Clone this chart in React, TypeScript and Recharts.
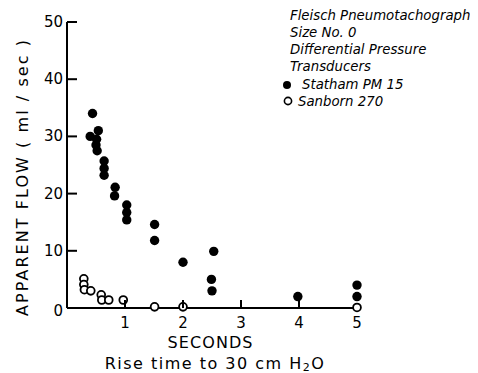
import React from "react";
import { Scatter, ScatterChart, XAxis, YAxis } from "recharts";

// Statham PM 15 (filled dots): [seconds, ml/sec]
const stathamX = [0.44, 0.4, 0.54, 0.51, 0.5, 0.52, 0.64, 0.64, 0.64, 0.83, 0.82, 1.03, 1.03, 1.03, 1.51, 1.51, 2.0, 2.53, 2.49, 2.5, 3.98, 5.0, 5.0];
const stathamY = [34, 30, 31, 29.5, 28.5, 27.5, 25.7, 24.4, 23.2, 21.1, 19.6, 18, 16.7, 15.4, 14.6, 11.8, 8, 9.9, 5, 3, 2, 4, 2];

// Sanborn 270 (open circles)
const sanbornX = [0.29, 0.29, 0.3, 0.41, 0.59, 0.6, 0.72, 0.97, 1.51, 2.0, 5.0];
const sanbornY = [5.1, 4.1, 3.2, 3.0, 2.3, 1.4, 1.4, 1.4, 0.2, 0.2, 0.1];

const xTicks = [1, 2, 3, 4, 5];
const yTicks = [0, 10, 20, 30, 40, 50];

const legendLines = ["Fleisch Pneumotachograph", "Size No. 0", "Differential Pressure", "Transducers"];

const statham = stathamX.map((x, i) => ({ x, y: stathamY[i] }));
const sanborn = sanbornX.map((x, i) => ({ x, y: sanbornY[i] }));

const font = "'DejaVu Sans', sans-serif";

const FilledDot = (props: any) => <circle cx={props.cx} cy={props.cy} r={4.7} fill="#000" />;
const OpenDot = (props: any) => (
  <circle cx={props.cx} cy={props.cy} r={3.9} fill="#fff" stroke="#000" strokeWidth={1.8} />
);

// tick marks point into the plot
const XTick = (props: any) => {
  const { x, y, payload } = props;
  return (
    <g>
      {payload.value !== 5 && <rect x={x - 1} y={y - 8} width={2} height={8} fill="#000" />}
      <text x={x} y={y + 20} textAnchor="middle" fontSize={15} fontFamily={font} fill="#000">
        {payload.value}
      </text>
    </g>
  );
};

const YTick = (props: any) => {
  const { x, y, payload } = props;
  return (
    <g>
      {payload.value !== 0 && <rect x={x} y={y - 1} width={10} height={2} fill="#000" />}
      <text
        x={x - 4}
        y={payload.value === 0 ? y + 3 : y}
        textAnchor="end"
        dominantBaseline="central"
        fontSize={15}
        fontFamily={font}
        fill="#000"
      >
        {payload.value}
      </text>
    </g>
  );
};

export default function App() {
  return (
    <div style={{ position: "relative", width: 470, height: 365 }}>
      <ScatterChart width={470} height={365} margin={{ top: 14, right: 121, bottom: 35, left: 29 }}>
        <XAxis
          type="number"
          dataKey="x"
          domain={[0, 5]}
          ticks={xTicks}
          tickSize={0}
          tickMargin={0}
          tickLine={false}
          tick={<XTick />}
          axisLine={{ stroke: "#000", strokeWidth: 2 }}
          height={30}
        />
        <YAxis
          type="number"
          dataKey="y"
          domain={[0, 50]}
          ticks={yTicks}
          tickSize={0}
          tickMargin={0}
          tickLine={false}
          tick={<YTick />}
          axisLine={{ stroke: "#000", strokeWidth: 2 }}
          width={30}
        />
        <Scatter data={sanborn} shape={<OpenDot />} isAnimationActive={false} />
        <Scatter data={statham} shape={<FilledDot />} isAnimationActive={false} />
      </ScatterChart>
      <svg width={470} height={365} style={{ position: "absolute", left: 0, top: 0, pointerEvents: "none" }}>
        <text
          transform="translate(14,170) rotate(-90)"
          textAnchor="middle"
          dominantBaseline="central"
          fontSize={16}
          fontFamily={font}
          textLength={276}
          lengthAdjust="spacing"
          fill="#000"
        >
          APPARENT FLOW ( ml / sec )
        </text>
        <text x={202} y={334} textAnchor="middle" dominantBaseline="central" fontSize={16} fontFamily={font} textLength={85} lengthAdjust="spacing" fill="#000">
          SECONDS
        </text>
        <text x={207} y={355} textAnchor="middle" dominantBaseline="central" fontSize={16} fontFamily={font} fill="#000" letterSpacing={1.5}>
          Rise time to 30 cm H
          <tspan fontSize={11} dy={4}>2</tspan>
          <tspan dy={-4}>O</tspan>
        </text>
        {legendLines.map((l, i) => (
          <text key={l} x={282} y={7 + i * 17} dominantBaseline="central" fontSize={13.3} fontStyle="italic" fontFamily={font} fill="#000">
            {l}
          </text>
        ))}
        <circle cx={279} cy={77} r={4} fill="#000" />
        <circle cx={280} cy={93} r={3.6} fill="#fff" stroke="#000" strokeWidth={1.6} />
        <text x={294} y={76} dominantBaseline="central" fontSize={13.3} fontStyle="italic" fontFamily={font} fill="#000">
          Statham PM 15
        </text>
        <text x={290} y={93} dominantBaseline="central" fontSize={13.3} fontStyle="italic" fontFamily={font} fill="#000">
          Sanborn 270
        </text>
      </svg>
    </div>
  );
}
